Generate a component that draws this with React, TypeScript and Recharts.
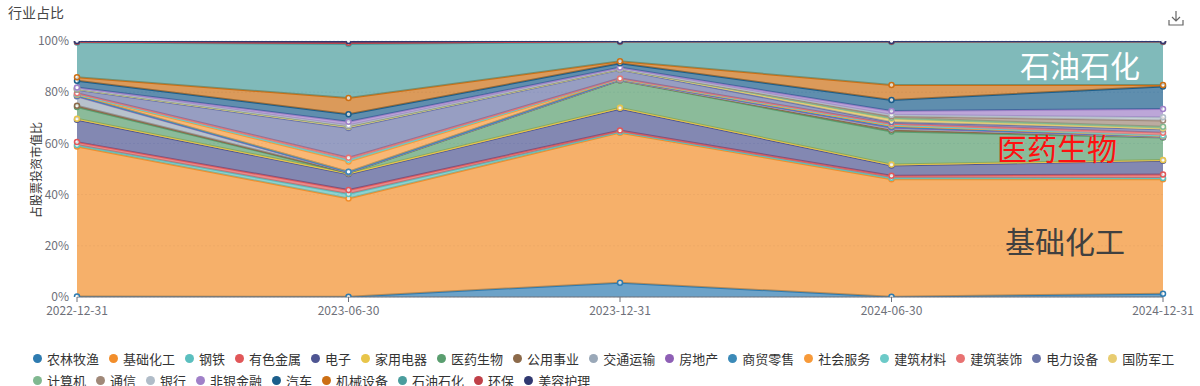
import { AreaChart, Area, XAxis, YAxis, CartesianGrid } from "recharts"

// stacked share of equity holdings by industry, in percent
const dates = ["2022-12-31", "2023-06-30", "2023-12-31", "2024-06-30", "2024-12-31"]
const yTicks = [0, 20, 40, 60, 80, 100]

const agriculture = [0.2, 0.1, 5.6, 0.1, 1.3]
const chemicals = [58.6, 38.4, 58.6, 45.9, 44.7]
const steel = [0.6, 1.7, 0.3, 0.6, 0.5]
const nonferrous = [1.1, 1.6, 0.5, 0.8, 1.4]
const electronics = [8.7, 6.2, 8.5, 4.0, 5.3]
const appliances = [0.4, 0.3, 0.4, 0.4, 0.3]
const pharma = [4.6, 0.2, 10.7, 12.8, 8.8]
const utilities = [0.5, 0.1, 0.1, 0.7, 0.2]
const transport = [3.6, 0.1, 0.1, 0.5, 0.1]
const realEstate = [0.2, 0.1, 0.1, 0.4, 0.1]
const retail = [0.2, 0.1, 0.1, 0.3, 0.1]
const socialServices = [0.3, 4.0, 0.1, 0.5, 0.1]
const buildingMaterials = [0.2, 0.7, 0.1, 0.3, 0.2]
const construction = [0.4, 0.8, 0.2, 0.4, 1.1]
const powerEquipment = [1.4, 11.6, 3.4, 0.7, 1.3]
const defense = [0.2, 0.5, 0.2, 1.0, 0.3]
const computer = [0.1, 0.2, 0.1, 0.6, 0.7]
const telecom = [0.1, 0.2, 0.1, 0.6, 2.4]
const banks = [0.1, 0.2, 0.1, 0.6, 1.3]
const nonBank = [0.3, 1.4, 0.3, 1.5, 3.2]
const autos = [2.7, 2.9, 1.7, 4.3, 8.8]
const machinery = [1.3, 6.3, 0.8, 5.8, 0.6]
const petrochem = [13.6, 21.1, 7.5, 16.8, 16.8]
const environmental = [0.3, 0.5, 0.2, 0.2, 0.2]
const beauty = [0.3, 0.7, 0.2, 0.2, 0.2]

const industries = [
  { name: "农林牧渔", values: agriculture },
  { name: "基础化工", values: chemicals },
  { name: "钢铁", values: steel },
  { name: "有色金属", values: nonferrous },
  { name: "电子", values: electronics },
  { name: "家用电器", values: appliances },
  { name: "医药生物", values: pharma },
  { name: "公用事业", values: utilities },
  { name: "交通运输", values: transport },
  { name: "房地产", values: realEstate },
  { name: "商贸零售", values: retail },
  { name: "社会服务", values: socialServices },
  { name: "建筑材料", values: buildingMaterials },
  { name: "建筑装饰", values: construction },
  { name: "电力设备", values: powerEquipment },
  { name: "国防军工", values: defense },
  { name: "计算机", values: computer },
  { name: "通信", values: telecom },
  { name: "银行", values: banks },
  { name: "非银金融", values: nonBank },
  { name: "汽车", values: autos },
  { name: "机械设备", values: machinery },
  { name: "石油石化", values: petrochem },
  { name: "环保", values: environmental },
  { name: "美容护理", values: beauty },
]

const colors = [
  "#2e7bb0", "#f28e2b", "#5bbfbf", "#e15759", "#4e5592", "#e8c54a", "#5a9e6f",
  "#8c6a4a", "#9aa8b8", "#8e5fb5", "#3b8ab8", "#f79a3a", "#6ccac8", "#e87272",
  "#6b75a8", "#e8cc70", "#80b890", "#a08878", "#b0bcc8", "#a080c8", "#1b5e8b",
  "#cc6f14", "#4a9d9d", "#c04048", "#303870",
]

const rows = dates.map((date, i) => {
  const row: Record<string, string | number> = { date }
  industries.forEach((s) => {
    row[s.name] = s.values[i]
  })
  return row
})

const font = '"Noto Sans CJK SC", "Noto Sans", sans-serif'

function DownloadIcon() {
  return (
    <svg width="16" height="16" style={{ position: "absolute", left: 1168, top: 10 }}>
      <path d="M8 1 V11 M4 7 L8 11 L12 7 M1 10 V15 H15 V10" fill="none" stroke="#666" strokeWidth="1.2" />
    </svg>
  )
}

export default function App() {
  return (
    <div style={{ position: "fixed", left: 0, top: 0, width: 1200, height: 386, background: "#fff", fontFamily: font, overflow: "hidden" }}>
      <div style={{ position: "absolute", left: 8, top: 2, fontSize: 14, color: "#464646" }}>行业占比</div>
      <DownloadIcon />
      <div
        style={{
          position: "absolute",
          left: 35,
          top: 170,
          fontSize: 12,
          color: "#333",
          transform: "translate(-50%, -50%) rotate(-90deg)",
          whiteSpace: "nowrap",
        }}
      >
        占股票投资市值比
      </div>

      <AreaChart
        width={1200}
        height={386}
        data={rows}
        margin={{ top: 41, left: 17, right: 37, bottom: 59 }}
        style={{ position: "absolute", left: 0, top: 0 }}
      >
        <CartesianGrid vertical={false} stroke="#e0e6f1" strokeDasharray="2 2" />
        <XAxis
          dataKey="date"
          height={30}
          tick={{ fill: "#6e7079", fontSize: 12 }}
          tickLine={{ stroke: "#6e7079" }}
          axisLine={{ stroke: "#6e7079" }}
          tickSize={5}
          tickMargin={4}
          interval={0}
        />
        <YAxis
          width={60}
          domain={[0, 100]}
          ticks={yTicks}
          allowDataOverflow
          tickFormatter={(v: number) => `${v}%`}
          tick={{ fill: "#6e7079", fontSize: 12 }}
          tickLine={false}
          axisLine={false}
        />
        {industries.map((s, i) => (
          <Area
            key={s.name}
            type="linear"
            dataKey={s.name}
            stackId="share"
            stroke={colors[i]}
            strokeWidth={2}
            fill={colors[i]}
            fillOpacity={0.7}
            dot={{ r: 2.5, fill: "#fff", stroke: colors[i], strokeWidth: 1.5 }}
            activeDot={false}
            isAnimationActive={false}
          />
        ))}
      </AreaChart>

      <div style={{ position: "absolute", left: 1020, top: 49, fontSize: 30, lineHeight: "30px", color: "#fff" }}>石油石化</div>
      <div style={{ position: "absolute", left: 997, top: 132, fontSize: 30, lineHeight: "30px", color: "#ff1010" }}>医药生物</div>
      <div style={{ position: "absolute", left: 1005, top: 225, fontSize: 30, lineHeight: "30px", color: "#404040" }}>基础化工</div>

      <div
        style={{
          position: "absolute",
          left: 33,
          top: 347,
          width: 1167,
          display: "flex",
          flexWrap: "wrap",
          fontSize: 13,
          color: "#333",
        }}
      >
        {industries.map((s, i) => (
          <div key={s.name} style={{ display: "flex", alignItems: "center", height: 22, marginRight: 10 }}>
            <span style={{ width: 9, height: 9, borderRadius: "50%", background: colors[i], marginRight: 5 }} />
            <span style={{ whiteSpace: "nowrap" }}>{s.name}</span>
          </div>
        ))}
      </div>
    </div>
  )
}
